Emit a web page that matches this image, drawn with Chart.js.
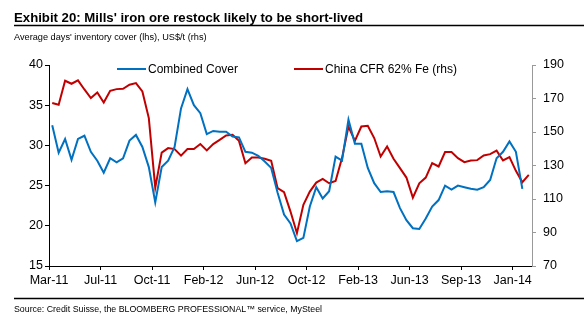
<!DOCTYPE html>
<html>
<head>
<meta charset="utf-8">
<script src="https://cdn.jsdelivr.net/npm/chart.js@4.4.1/dist/chart.umd.min.js"></script>
<style>
  body { margin: 0; background: #fff; }
  #wrap { position: relative; width: 584px; height: 323px; }
</style>
</head>
<body>
<div id="wrap"><canvas id="myChart"></canvas></div>
<script>
// tick labels, one every 8 points (first point sits half a step in from the axis)
const tickLabels = ["Mar-11", "Jul-11", "Oct-11", "Feb-12", "Jun-12", "Oct-12", "Feb-13", "Jun-13", "Sep-13", "Jan-14"];

// average days' inventory cover (lhs)
const coverLabel = "Combined Cover";
const coverValues = [
  32.5, 29.1, 30.8, 28.2, 30.8, 31.2, 29.2, 28.1, 26.6, 28.4,
  27.9, 28.4, 30.6, 31.3, 29.8, 27.3, 22.9, 27.3, 28.1, 29.8,
  34.6, 37.0, 35.0, 34.0, 31.4, 31.8, 31.7, 31.7, 31.1, 31.0,
  29.2, 29.1, 28.7, 28.0, 27.2, 24.1, 21.4, 20.3, 18.1, 18.5,
  22.4, 24.8, 23.4, 24.3, 28.6, 28.1, 33.2, 30.2, 30.2, 27.2,
  25.3, 24.2, 24.3, 24.2, 22.2, 20.7, 19.7, 19.6, 20.9, 22.4,
  23.2, 25.0, 24.5, 25.0, 24.8, 24.6, 24.5, 24.8, 25.7, 28.4,
  29.2, 30.5, 29.2, 24.6
];

// iron ore price, US$/t (rhs)
const cfrLabel = "China CFR 62% Fe (rhs)";
const cfrValues = [
  167.3, 166.3, 180.6, 178.8, 180.8, 175.4, 170.3, 173.6, 167.6, 174.6,
  175.6, 175.8, 178.2, 179.2, 174.2, 158.3, 116.8, 137.7, 140.4, 139.8,
  135.9, 139.8, 139.8, 142.8, 139.0, 142.8, 145.3, 147.9, 148.3, 144.7,
  131.4, 134.8, 134.8, 134.0, 132.8, 116.5, 114.1, 102.5, 89.6, 106.5,
  114.4, 119.8, 122.0, 119.4, 120.8, 134.4, 153.3, 144.7, 153.3, 153.7,
  146.4, 135.4, 141.3, 134.0, 128.4, 122.8, 110.8, 119.4, 122.8, 131.4,
  129.4, 138.0, 138.0, 134.4, 132.0, 133.0, 133.2, 136.0, 136.8, 138.9,
  133.0, 135.0, 126.8, 120.0, 124.4
];

const fontFamily = "'Liberation Sans', Arial, sans-serif";
Chart.defaults.font.family = fontFamily;
Chart.defaults.font.size = 12;
Chart.defaults.color = "#000";

const blue = "#0070C0";
const red = "#C00000";

const toPoints = (values) => values.map((v, i) => ({ x: i, y: v }));

// title, subtitle, rules, source and the legend drawn on the canvas
const decorations = {
  id: "decorations",
  afterDraw(chart) {
    const ctx = chart.ctx;
    ctx.save();
    ctx.fillStyle = "#000";
    ctx.textAlign = "left";
    ctx.textBaseline = "alphabetic";

    ctx.font = "bold 13.2px " + fontFamily;
    ctx.fillText("Exhibit 20: Mills' iron ore restock likely to be short-lived", 14, 21.5);
    ctx.font = "9.2px " + fontFamily;
    ctx.fillText("Average days' inventory cover (lhs), US$/t (rhs)", 14, 40);
    ctx.font = "8.8px " + fontFamily;
    ctx.fillText("Source: Credit Suisse, the BLOOMBERG PROFESSIONAL\u2122 service, MySteel", 14, 312);

    ctx.strokeStyle = "#000";
    ctx.lineWidth = 1.5;
    ctx.beginPath();
    ctx.moveTo(14, 25.5);
    ctx.lineTo(584, 25.5);
    ctx.moveTo(14, 298.5);
    ctx.lineTo(584, 298.5);
    ctx.stroke();

    // legend
    const spots = [117, 294];
    ctx.font = "12px " + fontFamily;
    ctx.textBaseline = "middle";
    chart.data.datasets.forEach((ds, k) => {
      const x = spots[k];
      ctx.strokeStyle = ds.borderColor;
      ctx.lineWidth = 2;
      ctx.beginPath();
      ctx.moveTo(x, 69);
      ctx.lineTo(x + 29, 69);
      ctx.stroke();
      ctx.fillStyle = "#000";
      ctx.fillText(ds.label, x + 31, 69.5);
    });
    ctx.restore();
  }
};

const config = {
  type: "line",
  data: {
    datasets: [
      {
        label: coverLabel,
        data: toPoints(coverValues),
        borderColor: blue,
        backgroundColor: blue,
        borderWidth: 2,
        pointRadius: 0,
        tension: 0,
        yAxisID: "y",
      },
      {
        label: cfrLabel,
        data: toPoints(cfrValues),
        borderColor: red,
        backgroundColor: red,
        borderWidth: 2,
        pointRadius: 0,
        tension: 0,
        yAxisID: "y1",
      },
    ],
  },
  options: {
    responsive: true,
    maintainAspectRatio: false,
    animation: false,
    layout: { padding: { top: 65, left: 0, right: 0, bottom: 0 } },
    plugins: {
      legend: { display: false },
      title: { display: false },
      tooltip: { enabled: false },
    },
    scales: {
      x: {
        type: "linear",
        min: -0.5,
        max: 74.5,
        afterBuildTicks(scale) {
          scale.ticks = tickLabels.map((l, k) => ({ value: -0.5 + 8 * k }));
        },
        afterFit(scale) {
          scale.height = 57;
        },
        ticks: {
          autoSkip: false,
          maxRotation: 0,
          padding: 3,
          font: { size: 12.5 },
          callback: (value, index) => tickLabels[index],
        },
        grid: { drawOnChartArea: false, drawTicks: true, tickLength: 4, color: "#000" },
        border: { display: true, color: "#000", width: 1 },
      },
      y: {
        position: "left",
        min: 15,
        max: 40,
        ticks: { stepSize: 5, padding: 2, font: { size: 12.5 } },
        afterFit(scale) {
          scale.width = 49;
        },
        grid: { drawOnChartArea: false, drawTicks: true, tickLength: 4, color: "#000" },
        border: { display: true, color: "#000", width: 1 },
      },
      y1: {
        position: "right",
        min: 70,
        max: 190,
        ticks: { stepSize: 20, padding: 7, font: { size: 12.5 } },
        afterFit(scale) {
          scale.width = 52;
        },
        grid: { drawOnChartArea: false, drawTicks: true, tickLength: 4, color: "#999" },
        border: { display: true, color: "#999", width: 1 },
      },
    },
  },
  plugins: [decorations],
};

const myChart = new Chart(document.getElementById("myChart"), config);
</script>
</body>
</html>
